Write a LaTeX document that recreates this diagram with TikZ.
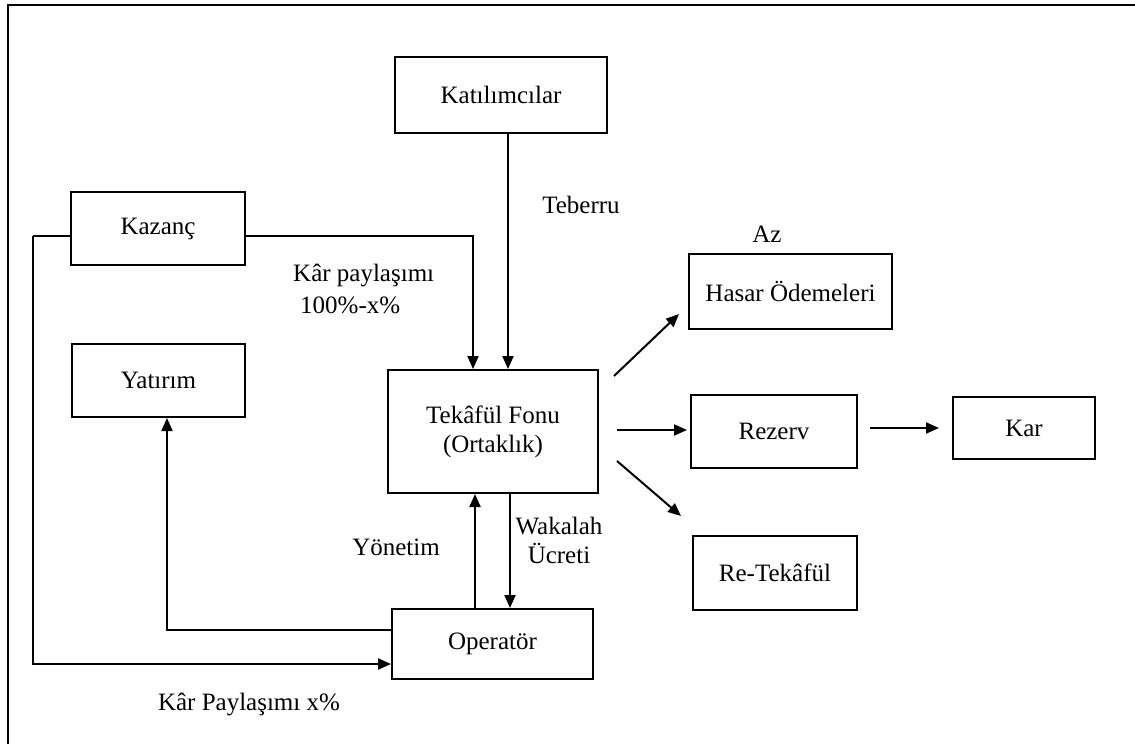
\documentclass[tikz,border=0pt]{standalone}
\usepackage{fontspec}
\setmainfont{Liberation Serif}
\usetikzlibrary{arrows.meta}
\begin{document}
\begin{tikzpicture}[x=1pt,y=-1pt,
  font=\fontsize{25}{29}\selectfont,
  box/.style={draw,line width=2pt,rectangle,inner sep=0pt,align=center},
  lbl/.style={inner sep=0pt,align=center},
  link/.style={line width=2pt},
  arr/.style={line width=2pt,-{Triangle[length=13pt,width=11pt]}}]
\useasboundingbox (0,0) rectangle (1135,744);
% frame
\draw[line width=2.2pt] (8,744) -- (8,5) -- (1135,5);

% boxes
\node[box,minimum width=212pt,minimum height=76pt]  (kat) at (501,95)    {Katılımcılar};
\node[box,minimum width=174pt,minimum height=73pt]  (kaz) at (158,228.5) {Kazanç};
\node[box,minimum width=173pt,minimum height=73pt]  (yat) at (158.5,380.5) {Yatırım};
\node[box,minimum width=210pt,minimum height=123pt] (fon) at (493,431.5) {Tekâfül Fonu\\(Ortaklık)};
\node[box,minimum width=201pt,minimum height=70pt]  (ope) at (492.5,644) {Operatör};
\node[box,minimum width=203pt,minimum height=75pt]  (has) at (790.5,291.5) {Hasar Ödemeleri};
\node[box,minimum width=166pt,minimum height=73pt]  (rez) at (774,431.5) {Rezerv};
\node[box,minimum width=142pt,minimum height=62pt]  (kar) at (1024,428)  {Kar};
\node[box,minimum width=164pt,minimum height=74pt]  (ret) at (775,573)   {Re-Tekâfül};

% labels
\node[lbl] (teb) at (581,205) {Teberru};
\node[lbl] (az)  at (767,234) {Az};
\node[lbl,anchor=west] (kp1) at (293,275) {Kâr paylaşımı};
\node[lbl,anchor=west] (kp2) at (300,305) {100\%-x\%};
\node[lbl] (yon) at (396,547) {Yönetim};
\node[lbl] (wak) at (559,540) {Wakalah\\Ücreti};
\node[lbl] (kpx) at (249,704) {Kâr Paylaşımı x\%};

% routing points
\coordinate (kl) at (33,236);
\coordinate (kb) at (33,664);
\coordinate (kr) at (473,236);
\coordinate (tx) at (508,0);
\coordinate (ux) at (475,0);
\coordinate (dx) at (510,0);
\coordinate (yl) at (167,630);

% connectors
\draw[link] (kaz.west |- kl) -- (kl);
\draw[arr] (kl) -- (kb) -- (ope.west |- kb);
\draw[arr] (kaz.east |- kr) -- (kr) -- (kr |- fon.north);
\draw[arr] (kat.south -| tx) -- (fon.north -| tx);
\draw[arr] (ope.north -| ux) -- (fon.south -| ux);
\draw[arr] (fon.south -| dx) -- (ope.north -| dx);
\draw[arr] (ope.west |- yl) -- (yl) -- (yl |- yat.south);

% arrows out of the fund
\coordinate (h1) at (614,376);
\coordinate (h2) at (679,314);
\coordinate (r1) at (617,430);
\coordinate (r2) at (687,430);
\coordinate (k1) at (870,428);
\coordinate (k2) at (939,428);
\coordinate (e1) at (617,461);
\coordinate (e2) at (681,516);
\draw[arr] (h1) -- (h2);
\draw[arr] (r1) -- (r2);
\draw[arr] (k1) -- (k2);
\draw[arr] (e1) -- (e2);
\end{tikzpicture}
\end{document}
